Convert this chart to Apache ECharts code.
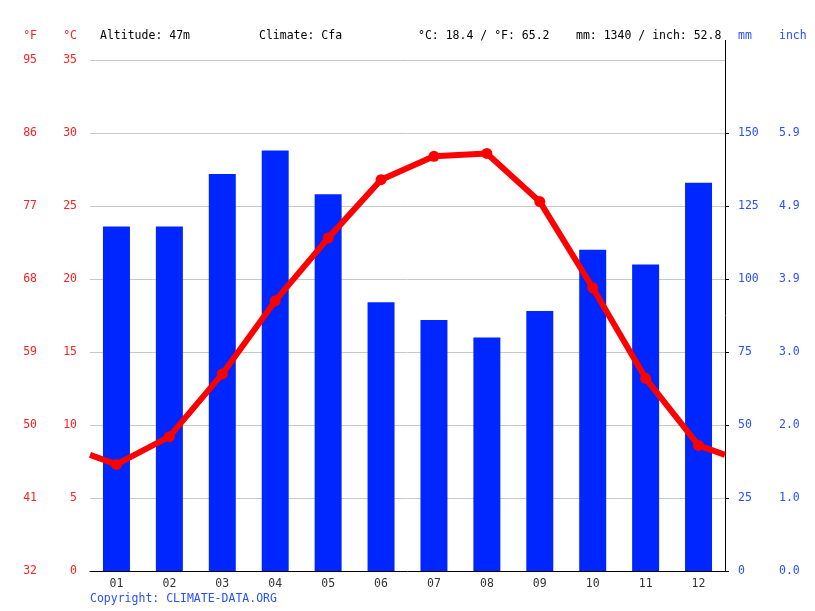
<!DOCTYPE html>
<html><head><meta charset="utf-8">
<script src="https://cdn.jsdelivr.net/npm/echarts@6/dist/echarts.min.js"></script>
<style>html,body{margin:0;padding:0;background:#fff}#c{width:815px;height:611px}</style>
</head><body><div id="c"></div>
<script>
const months = ['01','02','03','04','05','06','07','08','09','10','11','12'];
const precipMm = [118, 118, 136, 144, 129, 92, 86, 80, 89, 110, 105, 133];
const tempC = [7.3, 9.2, 13.5, 18.5, 22.8, 26.8, 28.4, 28.6, 25.3, 19.4, 13.2, 8.6];
const mmTicks = [0, 25, 50, 75, 100, 125, 150];
const headerTexts = ['Altitude: 47m', 'Climate: Cfa', '°C: 18.4 / °F: 65.2', 'mm: 1340 / inch: 52.8'];
const copyright = 'Copyright: CLIMATE-DATA.ORG';

const FONT = '"DejaVu Sans Mono", monospace';
const RED = '#ff2020';
const BLUE = '#2850ff';

const wrap = (tempC[0] + tempC[11]) / 2;
const lineData = [{value: [0.5, wrap], symbol: 'none'}]
  .concat(tempC.map((t, i) => [i + 1, t]))
  .concat([{value: [12.5, wrap], symbol: 'none'}]);

const chart = echarts.init(document.getElementById('c'));
const txt = (x, y, s, color, align) => ({type: 'text', x, y,
  style: {text: s, fill: color, font: '11.5px ' + FONT, textAlign: align || 'left', textVerticalAlign: 'middle'}});

chart.setOption({
  animation: false,
  grid: {left: 90, right: 90, top: 60, bottom: 40},
  xAxis: [
    {type: 'category', data: months, position: 'bottom',
     axisLine: {lineStyle: {color: '#000', width: 1}},
     axisTick: {length: 5, lineStyle: {color: '#000'}},
     axisLabel: {color: '#333', fontFamily: FONT, fontSize: 11.5, margin: 7},
     splitLine: {show: false}},
    {type: 'value', min: 0.5, max: 12.5, show: false}
  ],
  yAxis: [
    {type: 'value', min: 0, max: 35, interval: 5, position: 'left',
     axisLine: {show: false}, axisTick: {show: false},
     axisLabel: {color: RED, fontFamily: FONT, fontSize: 11.5, margin: 13},
     splitLine: {lineStyle: {color: '#c8c8c8', width: 1}}},
    {type: 'value', min: 0, max: 35, interval: 5, position: 'left', offset: 40,
     axisLine: {show: false}, axisTick: {show: false},
     axisLabel: {color: RED, fontFamily: FONT, fontSize: 11.5, margin: 13,
       formatter: v => String(Math.round(v * 9 / 5 + 32))},
     splitLine: {show: false}},
    {type: 'value', min: 0, max: 175, interval: 25, position: 'right',
     axisLine: {show: true, lineStyle: {color: '#000', width: 1}},
     axisTick: {show: true, length: 4, lineStyle: {color: '#000'}, customValues: mmTicks},
     axisLabel: {color: BLUE, fontFamily: FONT, fontSize: 11.5, margin: 13, customValues: mmTicks,
       formatter: v => v >= 175 ? '' : String(v)},
     splitLine: {show: false}},
    {type: 'value', min: 0, max: 175, interval: 25, position: 'right', offset: 41,
     axisLine: {show: false}, axisTick: {show: false},
     axisLabel: {color: BLUE, fontFamily: FONT, fontSize: 11.5, margin: 13,
       formatter: v => v >= 175 ? '' : (v / 25.4).toFixed(1)},
     splitLine: {show: false}}
  ],
  series: [
    {type: 'bar', xAxisIndex: 0, yAxisIndex: 2, data: precipMm, barWidth: '51%',
     itemStyle: {color: '#0026ff'}, z: 2},
    {type: 'line', xAxisIndex: 1, yAxisIndex: 0, data: lineData,
     symbol: 'circle', symbolSize: 11, lineStyle: {color: '#ff0000', width: 6},
     itemStyle: {color: '#ff0000'}, z: 3}
  ],
  graphic: [
    {type: 'line', shape: {x1: 725.5, y1: 40, x2: 725.5, y2: 60}, style: {stroke: '#000', lineWidth: 1}},
    txt(37, 36, '°F', RED, 'right'),
    txt(77, 36, '°C', RED, 'right'),
    txt(100, 36, headerTexts[0], '#000'),
    txt(259, 36, headerTexts[1], '#000'),
    txt(418, 36, headerTexts[2], '#000'),
    txt(576, 36, headerTexts[3], '#000'),
    txt(738, 36, 'mm', BLUE),
    txt(779, 36, 'inch', BLUE),
    txt(90, 599, copyright, BLUE)
  ]
});
</script></body></html>
